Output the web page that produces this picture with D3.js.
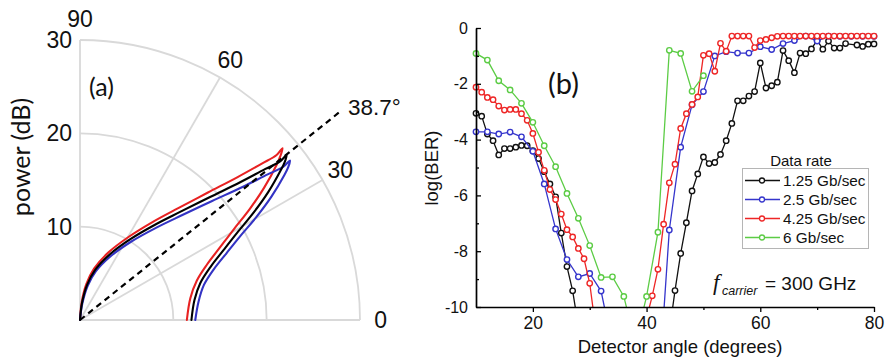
<!DOCTYPE html>
<html>
<head>
<meta charset="utf-8">
<script src="https://cdn.jsdelivr.net/npm/d3@7"></script>
<style>
  body { margin: 0; background: #fff; }
  svg { display: block; }
  text { font-family: "Liberation Sans", Arial, sans-serif; fill: #111; }
</style>
</head>
<body>
<svg id="chart" width="889" height="363"></svg>
<script>
// ---------- panel (a): emission lobes, angle (deg) vs power (dB), traced origin -> tip -> 0 deg ----------
const lobeAngleBlack = [88, 83.3, 78.7, 73.3, 65.5, 58.2, 51.8, 47.2, 43.4, 40.7, 39.2, 38.4, 38.6, 37.65, 36.75, 34.2, 31.7, 29.0, 26.0, 22.1, 17.1, 9.9, 0];
const lobePowerBlack = [0, 1.83, 3.82, 5.59, 7.75, 10.16, 12.99, 15.78, 19.18, 22.63, 25.57, 27.36, 28.32, 27.7, 26.86, 24.38, 21.83, 19.24, 17.13, 15.08, 13.49, 12.45, 11.94];
const lobeAngleRed = [88, 84.5, 80, 74.7, 67, 59.7, 53.3, 48.7, 44.9, 42.2, 40.7, 40.0, 40.3, 39.3, 38.3, 35.7, 33.2, 30.5, 27.5, 23.6, 18.6, 11.2, 0];
const lobePowerRed = [0, 1.9, 3.9, 5.7, 7.9, 10.3, 13.15, 15.95, 19.35, 22.8, 25.7, 27.5, 28.45, 27.75, 26.85, 24.3, 21.75, 19.1, 16.95, 14.85, 13.2, 12.05, 11.45];
const lobeAngleBlue = [88, 82, 77.3, 71.9, 64.1, 56.8, 50.4, 45.8, 42, 39.3, 37.8, 37.0, 37.2, 36.25, 35.35, 32.8, 30.3, 27.6, 24.6, 20.7, 15.8, 8.8, 0];
const lobePowerBlue = [0, 1.75, 3.75, 5.5, 7.65, 10.05, 12.85, 15.65, 19.05, 22.5, 25.45, 27.25, 28.25, 27.65, 26.85, 24.4, 21.9, 19.35, 17.3, 15.3, 13.8, 12.85, 12.35];
const polarRadialTicks = [10, 20, 30];
const polarAngleTicks = [0, 30, 60, 90];
const peakAngle = 38.7;
const peakLineLength = 35.7;

// ---------- panel (b): log(BER) vs detector angle ----------
const rateLabels = ["1.25 Gb/sec", "2.5 Gb/sec", "4.25 Gb/sec", "6 Gb/sec"];
const rateColors = ["#111111", "#3535cc", "#ee2626", "#5ccc45"];

const angle125 = [10,11,12,13,14,15,16,17,18,19,20,21,22,23,24,25,26,27,28,44,45,46,47,48,49,50,51,52,53,54,55,56,57,58,59,60,61,62,63,64,65,66,67,68,69,70,71,72,73,74,75,77,78,79,80];
const ber125 = [-3.06,-3.16,-3.8,-4.04,-4.55,-4.32,-4.32,-4.27,-4.21,-4.22,-4.4,-4.68,-5.15,-5.59,-6.05,-7.35,-8.55,-9.42,-10.7,-10.9,-9.41,-8.08,-6.98,-5.84,-5.23,-4.62,-4.86,-4.82,-4.53,-4.04,-3.42,-2.61,-2.61,-2.44,-2.28,-1.25,-2.15,-2.07,-1.94,-0.81,-1.17,-1.6,-0.9,-0.92,-0.75,-0.44,-0.76,-0.47,-0.72,-0.72,-0.56,-0.61,-0.66,-0.58,-0.57];

const angle25 = [10,12,14,16,18,20,22,24,26,28,30,32,34,42,44,46,48,50,52,54,56,58,60,62,64,66,68,70,72,74,76,78,80];
const ber25 = [-3.72,-3.72,-3.8,-3.73,-3.9,-4.42,-5.59,-7.2,-8.3,-8.92,-8.8,-9.43,-11.4,-13.3,-7.24,-4.27,-2.75,-2.28,-1.0,-0.85,-0.9,-0.9,-0.67,-0.77,-0.56,-0.45,-0.29,-0.47,-0.29,-0.3,-0.3,-0.3,-0.3];

const angle425 = [10,11,12,13,14,15,16,17,18,19,20,21,22,23,24,25,26,27,28,29,30,31,40,41,42,43,44,45,46,47,48,49,50,51,52,53,54,55,56,57,58,59,60,61,62,63,64,65,66,67,68,69,70,71,72,73,74,75,76,77,78,79,80];
const ber425 = [-2.12,-2.3,-2.49,-2.57,-2.8,-2.94,-2.92,-2.92,-3.07,-3.31,-3.78,-4.45,-5.1,-5.79,-6.15,-6.67,-7.23,-7.49,-7.9,-8.27,-9.15,-10.7,-10.4,-9.6,-8.65,-7.03,-5.55,-4.88,-3.6,-3.07,-2.74,-2.47,-0.98,-0.92,-1.55,-0.55,-0.83,-0.29,-0.29,-0.29,-0.29,-0.7,-0.45,-0.41,-0.35,-0.3,-0.29,-0.29,-0.29,-0.29,-0.29,-0.29,-0.29,-0.29,-0.29,-0.29,-0.29,-0.29,-0.29,-0.29,-0.29,-0.29,-0.29];

const angle6 = [10,12,14,16,18,20,22,24,26,28,30,32,34,36,38,40,42,44,46,48,50];
const ber6 = [-0.91,-1.15,-1.89,-2.22,-2.7,-3.38,-4.22,-4.97,-5.93,-6.82,-7.8,-8.94,-8.92,-9.62,-11.3,-9.62,-7.32,-0.8,-0.91,-2.27,-1.71];

const berTicks = [0, -2, -4, -6, -8, -10];
const berMinorTicks = [-1, -3, -5, -7, -9];
const angleTicks = [20, 40, 60, 80];
const angleMinorTicks = [30, 50, 70];

const svg = d3.select("#chart");

// ================= panel (a) =================
const cx = 80, cy = 320;
const rScale = d3.scaleLinear().domain([0, 30]).range([0, 280]);
const toRad = deg => (90 - deg) * Math.PI / 180;   // d3 radial angle: 0 at top, clockwise
const polar = svg.append("g").attr("transform", `translate(${cx},${cy})`);
const gridColor = "#d9d9d9";

// range rings
polarRadialTicks.forEach(t => {
  polar.append("path")
    .attr("d", d3.arc()({ innerRadius: rScale(t), outerRadius: rScale(t), startAngle: 0, endAngle: Math.PI / 2 }))
    .attr("fill", "none").attr("stroke", gridColor).attr("stroke-width", 1.8);
});
// spokes
polarAngleTicks.forEach(a => {
  const p = d3.pointRadial(toRad(a), rScale(30));
  polar.append("line").attr("x1", 0).attr("y1", 0).attr("x2", p[0]).attr("y2", p[1])
    .attr("stroke", gridColor).attr("stroke-width", 1.8);
});

// lobes
const lobe = d3.lineRadial()
  .angle(d => toRad(d[0]))
  .radius(d => rScale(d[1]))
  .curve(d3.curveCatmullRom.alpha(0.5));
const lobes = [
  { a: lobeAngleRed, p: lobePowerRed, c: "#e82222" },
  { a: lobeAngleBlue, p: lobePowerBlue, c: "#3333c4" },
  { a: lobeAngleBlack, p: lobePowerBlack, c: "#000000" }
];
lobes.forEach(l => {
  polar.append("path")
    .attr("d", lobe(d3.zip(l.a, l.p)))
    .attr("fill", "none").attr("stroke", l.c).attr("stroke-width", 2.1)
    .attr("stroke-linejoin", "round").attr("stroke-linecap", "round");
});

// peak direction
const peakEnd = d3.pointRadial(toRad(peakAngle), rScale(peakLineLength));
polar.append("line").attr("x1", 0).attr("y1", 0).attr("x2", peakEnd[0]).attr("y2", peakEnd[1])
  .attr("stroke", "#000").attr("stroke-width", 2.2).attr("stroke-dasharray", "6,4.5");
polar.append("text").attr("x", peakEnd[0] + 8).attr("y", peakEnd[1] + 3.5)
  .attr("font-size", 22.5).text(peakAngle + "°");

// angle labels
polarAngleTicks.forEach(a => {
  const p = d3.pointRadial(toRad(a), rScale(32.2));
  polar.append("text").attr("x", p[0]).attr("y", p[1])
    .attr("text-anchor", "middle").attr("dominant-baseline", "central")
    .attr("font-size", 23).text(a);
});
// radial labels
polarRadialTicks.forEach(t => {
  polar.append("text").attr("x", -8).attr("y", -rScale(t))
    .attr("text-anchor", "end").attr("dominant-baseline", "central")
    .attr("font-size", 23).text(t);
});
svg.append("text").attr("transform", "translate(30,157) rotate(-90)")
  .attr("text-anchor", "middle").style("font-family", "Lato, 'Open Sans', sans-serif")
  .attr("font-size", 25).text("power (dB)");
svg.append("text").attr("x", 89).attr("y", 96)
  .style("font-family", "Lato, 'Open Sans', sans-serif").attr("font-size", 25).text("(a)");

// ================= panel (b) =================
const x = d3.scaleLinear().domain([10, 80]).range([476, 874]);
const y = d3.scaleLinear().domain([-10, 0]).range([307, 28]);

svg.append("defs").append("clipPath").attr("id", "plotClip")
  .append("rect").attr("x", 468).attr("y", 0).attr("width", 414).attr("height", 307);

const series = [
  { a: angle125, b: ber125 },
  { a: angle25, b: ber25 },
  { a: angle425, b: ber425 },
  { a: angle6, b: ber6 }
];
const lineGen = d3.line().x(d => x(d[0])).y(d => y(d[1]));
const plot = svg.append("g").attr("clip-path", "url(#plotClip)");
series.forEach((s, i) => {
  const pts = d3.zip(s.a, s.b);
  plot.append("path").attr("d", lineGen(pts))
    .attr("fill", "none").attr("stroke", rateColors[i]).attr("stroke-width", 1.3);
  plot.selectAll(null).data(pts).enter().append("circle")
    .attr("cx", d => x(d[0])).attr("cy", d => y(d[1])).attr("r", 2.7)
    .attr("fill", "#fff").attr("stroke", rateColors[i]).attr("stroke-width", 1.4);
});

// axes
const yAxis = svg.append("g").attr("transform", "translate(476,0)")
  .call(d3.axisLeft(y).tickValues(berTicks).tickFormat(d => String(d)).tickSizeInner(-5).tickSizeOuter(0).tickPadding(8));
svg.append("g").attr("transform", "translate(476,0)")
  .call(d3.axisLeft(y).tickValues(berMinorTicks).tickFormat("").tickSizeInner(-3).tickSizeOuter(0))
  .select(".domain").remove();
const xAxis = svg.append("g").attr("transform", "translate(0,307)")
  .call(d3.axisBottom(x).tickValues(angleTicks).tickSizeInner(5).tickSizeOuter(0).tickPadding(5));
svg.append("g").attr("transform", "translate(0,307)")
  .call(d3.axisBottom(x).tickValues(angleMinorTicks).tickFormat("").tickSizeInner(3).tickSizeOuter(0))
  .select(".domain").remove();
svg.selectAll(".domain").attr("stroke", "#000").attr("stroke-width", 1.7);
svg.selectAll(".tick line").attr("stroke", "#000").attr("stroke-width", 1.3);
yAxis.selectAll("text").attr("font-size", 16).style("font-family", "'Liberation Sans', Arial, sans-serif").attr("fill", "#111");
xAxis.selectAll("text").attr("font-size", 17.5).style("font-family", "'Liberation Sans', Arial, sans-serif").attr("fill", "#111");

svg.append("text").attr("transform", "translate(438,168) rotate(-90)")
  .attr("text-anchor", "middle").attr("font-size", 18.5).text("log(BER)");
svg.append("text").attr("x", 680).attr("y", 353)
  .attr("text-anchor", "middle").attr("font-size", 18.5).text("Detector angle (degrees)");
svg.append("text").attr("x", 548).attr("y", 94)
  .style("font-family", "Lato, 'Open Sans', sans-serif").attr("font-size", 29).text("(b)");

// legend
const leg = svg.append("g");
leg.append("text").attr("x", 801).attr("y", 166).attr("text-anchor", "middle")
  .attr("font-size", 15).text("Data rate");
leg.append("rect").attr("x", 742.5).attr("y", 168.5).attr("width", 126).attr("height", 80)
  .attr("fill", "#fff").attr("stroke", "#b5b5b5").attr("stroke-width", 1);
rateLabels.forEach((lab, i) => {
  const yy = 180.5 + i * 19;
  leg.append("line").attr("x1", 745).attr("x2", 780).attr("y1", yy).attr("y2", yy)
    .attr("stroke", rateColors[i]).attr("stroke-width", 1.3);
  leg.append("circle").attr("cx", 762).attr("cy", yy).attr("r", 2.5)
    .attr("fill", "#fff").attr("stroke", rateColors[i]).attr("stroke-width", 1.3);
  leg.append("text").attr("x", 783).attr("y", yy + 5.5).attr("font-size", 15.3).text(lab);
});

// carrier frequency note
const note = svg.append("text").attr("y", 290);
note.append("tspan").attr("x", 713).style("font-family", "'Liberation Serif', serif")
  .style("font-style", "italic").attr("font-size", 23).text("f");
note.append("tspan").attr("x", 722).attr("dy", 5).style("font-style", "italic")
  .attr("font-size", 12.5).text("carrier");
note.append("tspan").attr("x", 765).attr("dy", -5).attr("font-size", 19).text("= 300 GHz");
</script>
</body>
</html>
